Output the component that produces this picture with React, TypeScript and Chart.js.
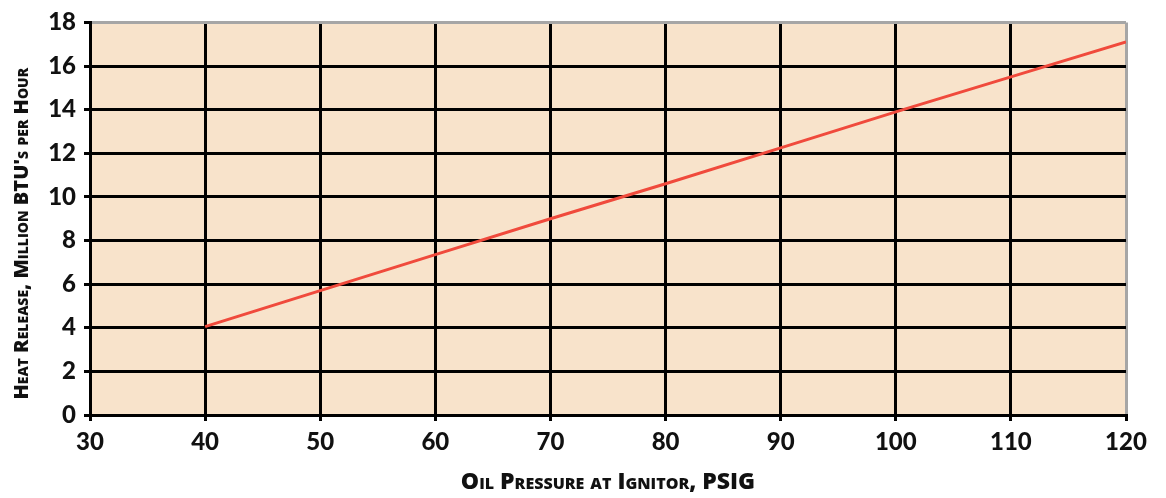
import React, { useEffect, useRef } from "react";
import { Chart, registerables } from "chart.js";

Chart.register(...registerables);

const pressurePsig = [40, 50, 60, 70, 80, 90, 100, 110, 120];
const heatReleaseMBtu = [4.05, 5.7, 7.35, 9.0, 10.6, 12.25, 13.9, 15.5, 17.1];
const xTitle = "Oil Pressure at Ignitor, PSIG";
const yTitle = "Heat Release, Million BTU's per Hour";

const FONT = "Lato, 'Open Sans', sans-serif";
const TITLE_FONT = "'Open Sans', Lato, sans-serif";

const bgPlugin = {
  id: "plotBg",
  beforeDraw(chart: any) {
    const { ctx, chartArea } = chart;
    ctx.save();
    ctx.fillStyle = "#F8E3CB";
    ctx.fillRect(chartArea.left, chartArea.top, chartArea.right - chartArea.left, chartArea.bottom - chartArea.top);
    ctx.restore();
  },
};

export default function App() {
  const ref = useRef<HTMLCanvasElement | null>(null);
  useEffect(() => {
    if (!ref.current) return;
    const chart = new Chart(ref.current, {
      type: "line",
      data: {
        datasets: [
          {
            data: pressurePsig.map((x, i) => ({ x, y: heatReleaseMBtu[i] })),
            borderColor: "#F04A3C",
            borderWidth: 3,
            pointRadius: 0,
            tension: 0,
            fill: false,
          },
        ],
      },
      options: {
        animation: false,
        responsive: true,
        maintainAspectRatio: false,
        layout: { padding: { top: 18, right: 40, left: 0, bottom: 0 } },
        plugins: { legend: { display: false }, tooltip: { enabled: false } },
        scales: {
          x: {
            type: "linear",
            min: 30,
            max: 120,
            ticks: { stepSize: 10, color: "#111", padding: 7, font: { family: FONT, size: 24, weight: "900" } },
            grid: {
              color: (c: any) => (c.tick && c.tick.value === 120 ? "#A6A6A6" : "#000"),
              tickColor: "#000",
              lineWidth: 3,
              tickLength: 6,
            },
            border: { color: "#000", width: 3 },
            title: {
              display: true,
              text: xTitle,
              color: "#111",
              padding: { top: 0, bottom: 2 },
              font: { family: TITLE_FONT, size: 23, weight: "small-caps 800" as any },
            },
            afterFit: (s: any) => {
              s.height = 83;
            },
          },
          y: {
            min: 0,
            max: 18,
            ticks: { stepSize: 2, color: "#111", padding: 8, font: { family: FONT, size: 24, weight: "900" } },
            grid: {
              color: (c: any) => (c.tick && c.tick.value === 18 ? "#A6A6A6" : "#000"),
              tickColor: "#000",
              lineWidth: 3,
              tickLength: 6,
            },
            border: { color: "#000", width: 3 },
            title: {
              display: true,
              text: yTitle + "\u2003\u2002",
              color: "#111",
              padding: { top: 10, bottom: 0 },
              font: { family: TITLE_FONT, size: 20, weight: "small-caps 800" as any },
            },
            afterFit: (s: any) => {
              s.width = 90;
            },
          },
        },
      },
      plugins: [bgPlugin],
    });
    return () => chart.destroy();
  }, []);
  return (
    <div style={{ position: "absolute", left: 0, top: 0, width: 1166, height: 498, background: "#fff" }}>
      <canvas ref={ref} />
    </div>
  );
}
